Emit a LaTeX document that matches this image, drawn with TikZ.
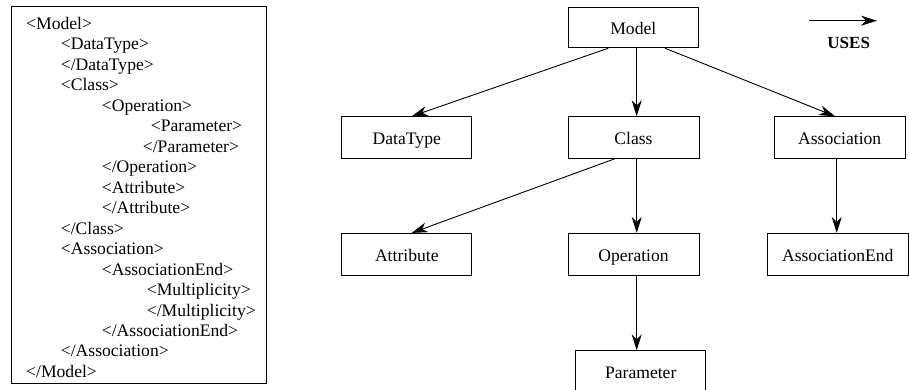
\documentclass[tikz,border=0pt]{standalone}
\usepackage{fontspec}
\setmainfont{Liberation Serif}
\usetikzlibrary{arrows.meta}
\begin{document}
\begin{tikzpicture}[x=1pt,y=-1pt,
  box/.style={draw, line width=0.9pt, inner sep=0pt, minimum width=130pt, minimum height=41pt,
              text height=13.6pt, text depth=0pt, font=\fontsize{17.6}{20}\selectfont},
  uses/.style={-{Stealth[length=16pt,width=10pt,inset=5pt]}, line width=0.9pt},
  xml/.style={anchor=base west, inner sep=0pt, font=\fontsize{17.6}{20}\selectfont},
  frame/.style={draw, line width=0.9pt, inner sep=0pt}]
\useasboundingbox (0,0) rectangle (909,389);

% ---- left listing ----
\node[frame, minimum width=255pt, minimum height=377pt] (listing) at (139.2,195) {};
\def\lsp{20.48}
\node[xml] (l1)  at (26,   29.3+0*\lsp) {<Model>};
\node[xml] (l2)  at (60.7, 29.3+1*\lsp) {<DataType>};
\node[xml] (l3)  at (60.7, 29.3+2*\lsp) {</DataType>};
\node[xml] (l4)  at (60.7, 29.3+3*\lsp) {<Class>};
\node[xml] (l5)  at (101.7,29.3+4*\lsp) {<Operation>};
\node[xml] (l6)  at (150.7,29.3+5*\lsp) {<Parameter>};
\node[xml] (l7)  at (142.7,29.3+6*\lsp) {</Parameter>};
\node[xml] (l8)  at (101.7,29.3+7*\lsp) {</Operation>};
\node[xml] (l9)  at (101.7,29.3+8*\lsp) {<Attribute>};
\node[xml] (l10) at (101.7,29.3+9*\lsp) {</Attribute>};
\node[xml] (l11) at (60.7, 29.3+10*\lsp) {</Class>};
\node[xml] (l12) at (60.7, 29.3+11*\lsp) {<Association>};
\node[xml] (l13) at (101.7,29.3+12*\lsp) {<AssociationEnd>};
\node[xml] (l14) at (146.7,29.3+13*\lsp) {<Multiplicity>};
\node[xml] (l15) at (146.7,29.3+14*\lsp) {</Multiplicity>};
\node[xml] (l16) at (101.7,29.3+15*\lsp) {</AssociationEnd>};
\node[xml] (l17) at (60.7, 29.3+16*\lsp) {</Association>};
\node[xml] (l18) at (26,   29.3+17*\lsp) {</Model>};

% ---- right diagram ----
\node[box, minimum height=40.5pt] (model) at (633.3,27.5) {Model};
\node[box, minimum height=41.5pt] (datatype) at (406.8,137.5) {DataType};
\node[box, minimum width=131pt, minimum height=41.5pt] (class) at (633.5,137.5) {Class};
\node[box, minimum width=131pt, minimum height=41.5pt] (assoc) at (839.7,137.5) {Association};
\node[box, minimum height=41.7pt] (attribute) at (406.8,254.2) {Attribute};
\node[box, minimum width=131pt, minimum height=41.7pt] (operation) at (633.5,254.2) {Operation};
\node[box, minimum width=141pt, minimum height=41.7pt] (assocend) at (837.8,254.2) {AssociationEnd};
\node[box, minimum height=41.5pt] (parameter) at (640.7,371.5) {Parameter};

\draw[uses] ([xshift=-25pt]model.south) -- ([xshift=4.9pt]datatype.north);
\draw[uses] ([xshift=3.4pt]model.south) -- ([xshift=3.2pt]class.north);
\draw[uses] ([xshift=31.7pt]model.south) -- ([xshift=-4.7pt]assoc.north);
\draw[uses] ([xshift=-18.5pt]class.south) -- ([xshift=4.9pt]attribute.north);
\draw[uses] ([xshift=3.2pt]class.south) -- ([xshift=3.2pt]operation.north);
\draw[uses] ([xshift=3.2pt]operation.south) -- ([xshift=-4pt]parameter.north);
\draw[uses] ([xshift=-3pt]assoc.south) -- ([xshift=-1.1pt]assocend.north);

% ---- legend ----
\coordinate (lgA) at (809,20.7);
\coordinate (lgB) at (877,20.7);
\draw[uses] (lgA) -- (lgB);
\node[anchor=base, inner sep=0pt, font=\fontsize{17}{20}\selectfont\bfseries] (useslabel) at (848.7,48.3) {USES};
\end{tikzpicture}
\end{document}
